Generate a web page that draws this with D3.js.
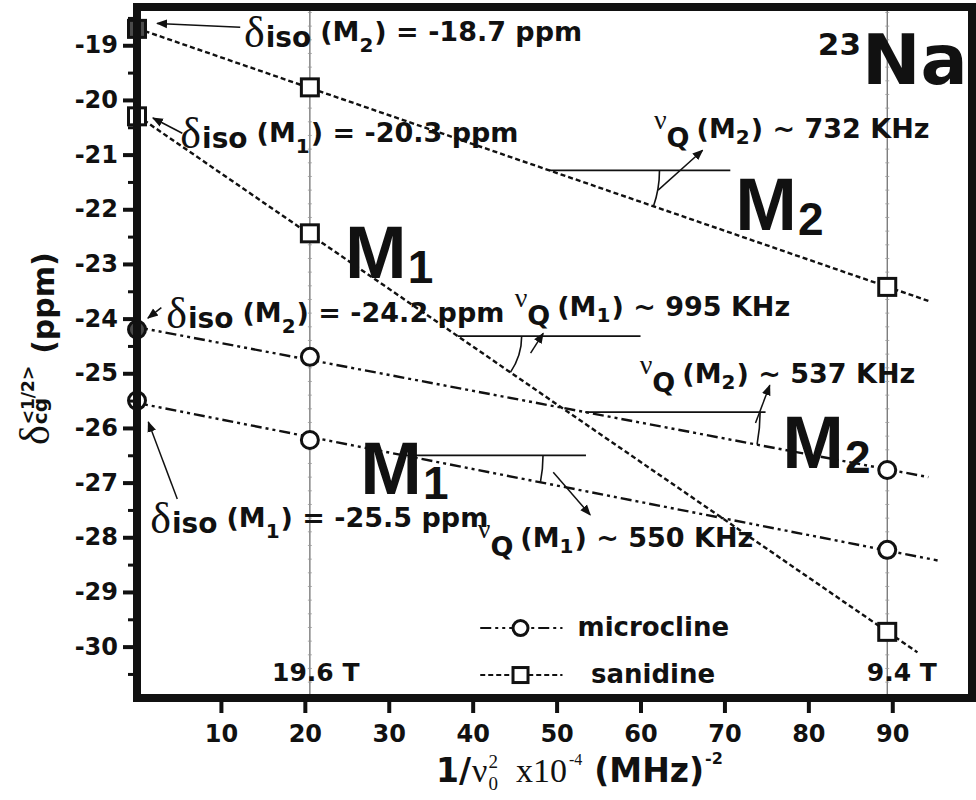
<!DOCTYPE html>
<html>
<head>
<meta charset="utf-8">
<script src="https://cdn.jsdelivr.net/npm/d3@7"></script>
<style>
  body { margin: 0; background: #fff; }
  svg { display: block; }
</style>
</head>
<body>
<div id="chart"></div>
<script>
// 23Na isotropic shift extrapolation, microcline vs sanidine

// x values: 1/v0^2 (x10^-4 MHz^-2) for extrapolated, 19.6 T and 9.4 T
const fieldX = [0, 20.6, 89.4];
const fieldLabels = ['', '19.6 T', '9.4 T'];

// centre of gravity shifts (ppm)
const sanidineM2 = [-18.7, -19.77, -23.42];
const sanidineM1 = [-20.3, -22.44, -29.73];
const microclineM2 = [-24.2, -24.70, -26.77];
const microclineM1 = [-25.5, -26.22, -28.23];

// how far each fitted line is drawn
const lineEnds = [94.3, 93.0, 94.3, 95.4];

const nuQ = ['732', '995', '537', '550'];  // KHz, same order as the series

const xTicks = [10, 20, 30, 40, 50, 60, 70, 80, 90];
const yTicks = [-19, -20, -21, -22, -23, -24, -25, -26, -27, -28, -29, -30];
const yMinor = [-18.5, -19.5, -20.5, -21.5, -22.5, -23.5, -24.5, -25.5, -26.5, -27.5, -28.5, -29.5, -30.5];

const SANS = "'DejaVu Sans', sans-serif";
const SERIF = "'Liberation Serif', 'Times New Roman', serif";
const BIG = "'Liberation Sans', Arial, sans-serif";

const width = 976, height = 800;
const svg = d3.select('#chart').append('svg')
    .attr('width', width)
    .attr('height', height);

const x = d3.scaleLinear().domain([0, 99.5]).range([137, 972]);
const y = d3.scaleLinear().domain([-30.94, -18.3]).range([698, 7]);

const defs = svg.append('defs');
defs.append('marker')
    .attr('id', 'arrow')
    .attr('viewBox', '0 0 10 10')
    .attr('refX', 9).attr('refY', 5)
    .attr('markerWidth', 11).attr('markerHeight', 11)
    .attr('markerUnits', 'userSpaceOnUse')
    .attr('orient', 'auto')
    .append('path')
    .attr('d', 'M0,1 L10,5 L0,9 z')
    .attr('fill', '#111');

// series table built from the arrays
const series = [
    { name: 'sanidineM2', values: sanidineM2, shape: 'square', filled: true, end: lineEnds[0], dash: '5,3', nq: nuQ[0], site: '2' },
    { name: 'sanidineM1', values: sanidineM1, shape: 'square', filled: false, end: lineEnds[1], dash: '5,3', nq: nuQ[1], site: '1' },
    { name: 'microclineM2', values: microclineM2, shape: 'circle', filled: true, end: lineEnds[2], dash: '11,4,3,4,3,4', nq: nuQ[2], site: '2' },
    { name: 'microclineM1', values: microclineM1, shape: 'circle', filled: false, end: lineEnds[3], dash: '11,4,3,4,3,4', nq: nuQ[3], site: '1' }
];

// least squares line through the three points
function fit(xs, ys) {
    const mx = d3.mean(xs), my = d3.mean(ys);
    const b = d3.sum(xs, (v, i) => (v - mx) * (ys[i] - my)) / d3.sum(xs, v => (v - mx) * (v - mx));
    return { a: my - b * mx, b: b };
}
series.forEach(s => { s.fit = fit(fieldX, s.values); });

// rich text helper: parts laid out one after another, "stack" reuses previous x
function rich(parent, px, py, parts) {
    const g = parent.append('g').attr('transform', `translate(${px},${py})`);
    let cx = 0, lastStart = 0;
    parts.forEach(p => {
        const startX = p.stack ? lastStart : cx + (p.dx || 0);
        const t = g.append('text')
            .attr('x', startX)
            .attr('y', p.dy || 0)
            .style('font-family', p.f || SANS)
            .style('font-size', p.s + 'px')
            .style('font-weight', p.w || 'bold')
            .style('fill', '#111')
            .text(p.t);
        const w = t.node().getComputedTextLength();
        if (p.stack) {
            cx = Math.max(cx, startX + w);
        } else {
            lastStart = startX;
            cx = startX + w;
        }
    });
    return g;
}

// field lines (19.6 T and 9.4 T)
fieldX.slice(1).forEach((fx, i) => {
    svg.append('line')
        .attr('x1', x(fx)).attr('x2', x(fx))
        .attr('y1', y.range()[1]).attr('y2', y.range()[0])
        .attr('stroke', '#666')
        .attr('stroke-width', 1.2);
    // small ruler marks along the line
    svg.append('g').selectAll('line')
        .data(d3.range(-18.4, -30.9, -0.25))
        .enter().append('line')
        .attr('x1', x(fx) - 2).attr('x2', x(fx) + 2)
        .attr('y1', d => y(d)).attr('y2', d => y(d))
        .attr('stroke', '#999')
        .attr('stroke-width', 0.8);
    const lab = svg.append('text')
        .attr('y', 681)
        .style('font-family', SANS)
        .style('font-size', '25px')
        .style('font-weight', 'bold')
        .style('fill', '#111')
        .text(fieldLabels[i + 1]);
    // put the line through the decimal point
    const whole = fieldLabels[i + 1].split('.')[0];
    const tmp = svg.append('text').style('font-family', SANS).style('font-size', '25px')
        .style('font-weight', 'bold').text(whole);
    const wWhole = tmp.node().getComputedTextLength();
    tmp.remove();
    lab.attr('x', x(fx) - wWhole - 3);
});

// fitted lines
series.forEach(s => {
    svg.append('path')
        .datum([0, s.end])
        .attr('d', d3.line().x(d => x(d)).y(d => y(s.fit.a + s.fit.b * d)))
        .attr('fill', 'none')
        .attr('stroke', '#111')
        .attr('stroke-width', 2.4)
        .attr('stroke-dasharray', s.dash);
});

// angle marks for nuQ
const angleMarks = [
    { s: 0, yLevel: -21.29, x2: 70.7, r: 110, from: [62.1, -21.65], to: [67.4, -20.92] },
    { s: 1, yLevel: -24.32, x2: 60.0, r: 64, from: [46.9, -24.63], to: [48.4, -24.27] },
    { s: 2, yLevel: -25.71, x2: 74.9, r: 175, from: [73.7, -25.91], to: [75.4, -25.22] },
    { s: 3, yLevel: -26.50, x2: 53.5, r: 140, from: [49.6, -26.81], to: [54.0, -27.59] }
];
angleMarks.forEach(m => {
    const f = series[m.s].fit;
    const x0 = (m.yLevel - f.a) / f.b;
    const cx = x(x0), cy = y(m.yLevel);
    const slopePx = (y(f.a + f.b * (x0 + 10)) - cy) / (x(x0 + 10) - cx);
    const th = Math.atan(slopePx);
    svg.append('line')
        .attr('x1', cx).attr('x2', x(m.x2))
        .attr('y1', cy).attr('y2', cy)
        .attr('stroke', '#111').attr('stroke-width', 1.8);
    svg.append('path')
        .attr('d', `M${cx + m.r},${cy} A${m.r},${m.r} 0 0 1 ${cx + m.r * Math.cos(th)},${cy + m.r * Math.sin(th)}`)
        .attr('fill', 'none').attr('stroke', '#111').attr('stroke-width', 1.6);
    svg.append('line')
        .attr('x1', x(m.from[0])).attr('y1', y(m.from[1]))
        .attr('x2', x(m.to[0])).attr('y2', y(m.to[1]))
        .attr('stroke', '#111').attr('stroke-width', 1.5)
        .attr('marker-end', 'url(#arrow)');
});

// arrows pointing to the extrapolated delta_iso points
const isoArrows = [
    { from: [12.3, -18.67], to: [2.4, -18.60] },
    { from: [5.4, -20.61], to: [1.9, -20.33] },
    { from: [2.9, -23.80], to: [1.3, -23.99] },
    { from: [4.8, -27.30], to: [1.35, -25.89] }
];
isoArrows.forEach(a => {
    svg.append('line')
        .attr('x1', x(a.from[0])).attr('y1', y(a.from[1]))
        .attr('x2', x(a.to[0])).attr('y2', y(a.to[1]))
        .attr('stroke', '#111').attr('stroke-width', 1.5)
        .attr('marker-end', 'url(#arrow)');
});

// markers
function drawMarker(g, shape, cx, cy, size, fill) {
    if (shape === 'square') {
        g.append('rect')
            .attr('x', cx - size / 2).attr('y', cy - size / 2)
            .attr('width', size).attr('height', size)
            .attr('fill', fill).attr('stroke', '#111').attr('stroke-width', 3);
    } else {
        g.append('circle')
            .attr('cx', cx).attr('cy', cy).attr('r', size / 2)
            .attr('fill', fill).attr('stroke', '#111').attr('stroke-width', 3);
    }
}
series.forEach(s => {
    s.values.forEach((v, i) => {
        const fill = (i === 0 && s.filled) ? '#4a4a4a' : '#fff';
        drawMarker(svg, s.shape, x(fieldX[i]), y(v), 17, fill);
    });
});

// delta_iso labels
const isoPos = [[12.75, -19.04], [5.16, -20.88], [3.48, -24.17], [1.57, -27.93]];
series.forEach((s, i) => {
    rich(svg, x(isoPos[i][0]), y(isoPos[i][1]), [
        { t: 'δ', f: SERIF, s: 44, w: 'normal' },
        { t: 'iso', s: 28, dx: 1 },
        { t: '(M', s: 27, dx: 9, dy: -6 },
        { t: s.site, s: 20, dy: 5 },
        { t: `) = ${s.values[0].toFixed(1)} ppm`, s: 27, dy: -6, dx: 1 }
    ]);
});

// nuQ labels
const nqPos = [[61.6, -20.70], [45.0, -23.95], [59.9, -25.18], [40.6, -28.18]];
series.forEach((s, i) => {
    rich(svg, x(nqPos[i][0]), y(nqPos[i][1]), [
        { t: 'ν', f: SERIF, s: 28, w: 'normal', dy: -9 },
        { t: 'Q', s: 27, dy: 9 },
        { t: '(M', s: 27, dx: 7 },
        { t: s.site, s: 20, dy: 6 },
        { t: `) ~ ${s.nq} KHz`, s: 27, dx: 1 }
    ]);
});

// big site labels
const sitePos = [[71.3, -22.38], [24.8, -23.26], [76.9, -26.73], [26.6, -27.20]];
series.forEach((s, i) => {
    rich(svg, x(sitePos[i][0]), y(sitePos[i][1]), [
        { t: 'M', f: BIG, s: 74 },
        { t: s.site, f: BIG, s: 46, dy: 5, dx: 1 }
    ]);
});

// 23Na
const na = svg.append('text')
    .attr('x', x(99.0)).attr('y', 84)
    .attr('text-anchor', 'end')
    .style('font-family', SANS).style('font-size', '70px').style('font-weight', 'bold')
    .style('fill', '#111')
    .text('Na');
svg.append('text')
    .attr('x', x(99.0) - na.node().getComputedTextLength() - 1).attr('y', 55)
    .attr('text-anchor', 'end')
    .style('font-family', SANS).style('font-size', '31px').style('font-weight', 'bold')
    .style('fill', '#111')
    .text('23');

// legend
const legendRows = [
    { label: 'microcline', s: series[2], yv: -29.66, tx: 52.5 },
    { label: 'sanidine', s: series[0], yv: -30.52, tx: 54.1 }
];
legendRows.forEach(r => {
    svg.append('line')
        .attr('x1', x(40.9)).attr('x2', x(50.7))
        .attr('y1', y(r.yv)).attr('y2', y(r.yv))
        .attr('stroke', '#111').attr('stroke-width', 2)
        .attr('stroke-dasharray', r.s.dash);
    drawMarker(svg, r.s.shape, x(45.7), y(r.yv), 15, '#fff');
    svg.append('text')
        .attr('x', x(r.tx)).attr('y', y(r.yv) + 8)
        .style('font-family', SANS).style('font-size', '26px').style('font-weight', 'bold')
        .style('fill', '#111')
        .text(r.label);
});

// frame
svg.append('rect')
    .attr('x', x.range()[0]).attr('y', y.range()[1])
    .attr('width', x.range()[1] - x.range()[0])
    .attr('height', y.range()[0] - y.range()[1])
    .attr('fill', 'none')
    .attr('stroke', '#111')
    .attr('stroke-width', 8);

// axes
const xAxis = svg.append('g')
    .attr('transform', `translate(0,${y.range()[0]})`)
    .call(d3.axisBottom(x).tickValues(xTicks).tickSize(15).tickSizeOuter(0).tickPadding(12));
const yAxis = svg.append('g')
    .attr('transform', `translate(${x.range()[0]},0)`)
    .call(d3.axisLeft(y).tickValues(yTicks).tickSize(14).tickSizeOuter(0).tickPadding(5)
        .tickFormat(d => String(d)));
svg.append('g')
    .attr('transform', `translate(${x.range()[0]},0)`)
    .call(d3.axisLeft(y).tickValues(yMinor).tickSize(9).tickSizeOuter(0).tickFormat(''))
    .call(g => g.select('.domain').remove())
    .selectAll('line').attr('stroke', '#111').attr('stroke-width', 3);

[xAxis, yAxis].forEach(g => {
    g.select('.domain').remove();
    g.selectAll('line').attr('stroke', '#111').attr('stroke-width', 4);
    g.selectAll('text')
        .style('font-family', SANS)
        .style('font-size', '24px')
        .style('font-weight', 'bold')
        .attr('fill', '#111');
});

// x axis title: 1/v0^2 x10^-4 (MHz)^-2
rich(svg, 436, 782, [
    { t: '1/', s: 33 },
    { t: 'ν', f: SERIF, s: 34, w: 'normal', dx: 1 },
    { t: '2', f: SERIF, s: 19, w: 'normal', dy: -14, dx: 1 },
    { t: '0', f: SERIF, s: 19, w: 'normal', dy: 8, stack: true },
    { t: 'x10', f: SERIF, s: 34, w: 'normal', dx: 18 },
    { t: '-4', f: SERIF, s: 16, w: 'normal', dy: -17, dx: 2 },
    { t: '(MHz)', s: 33, dx: 12 },
    { t: '-2', s: 16, dy: -18, dx: 1 }
]);

// y axis title: delta_cg^<1/2> (ppm)
const yt = rich(svg, 0, 0, [
    { t: 'δ', f: SERIF, s: 42, w: 'normal', dy: -5 },
    { t: '<1/2>', s: 17, dy: -20, dx: 1 },
    { t: 'cg', s: 20, dy: -7, stack: true },
    { t: '(ppm)', s: 30, dx: 12 }
]);
yt.attr('transform', 'translate(54,445) rotate(-90)');
</script>
</body>
</html>
